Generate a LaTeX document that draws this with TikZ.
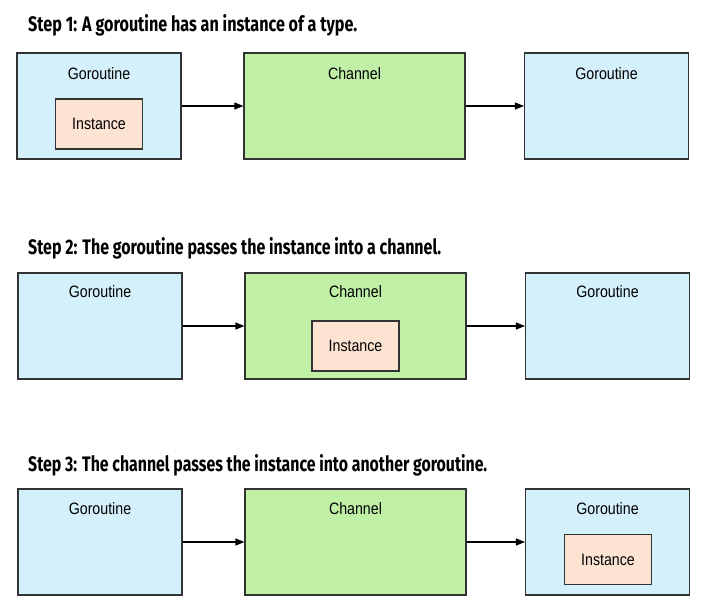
\documentclass[tikz,border=0pt]{standalone}
\usepackage{fontspec}
\usepackage{graphicx}
\setmainfont{Liberation Sans}[FakeStretch=0.86]
\newfontfamily\titlefont{Fira Sans}[UprightFont=* Bold]
\usetikzlibrary{arrows.meta}
\definecolor{gorofill}{HTML}{D4F0FB}
\definecolor{chanfill}{HTML}{C0F0A6}
\definecolor{instfill}{HTML}{FDE4D2}
\definecolor{edgecol}{HTML}{333333}
\newcommand{\steptitle}[2]{\resizebox{#1}{\height}{\titlefont\fontsize{21}{25}\selectfont #2}}
\begin{document}
\begin{tikzpicture}[x=1pt,y=-1pt,
  box/.style={draw=edgecol, line width=1.1pt, minimum height=106pt, inner sep=0pt},
  goro/.style={box, fill=gorofill, minimum width=164pt},
  chan/.style={box, fill=chanfill, minimum width=221pt},
  inst/.style={draw=edgecol, line width=1.1pt, fill=instfill, minimum width=87pt, minimum height=50pt, inner sep=0pt, font=\fontsize{16.5}{18}\selectfont},
  lbl/.style={inner sep=0pt, font=\fontsize{16.5}{18}\selectfont},
  ttl/.style={inner sep=0pt, anchor=base west},
  flow/.style={-{Triangle[length=9pt,width=7pt]}, line width=1.1pt, black}]
\useasboundingbox (0,0) rectangle (702,604);
% Step 1
\node[ttl] (t1) at (28,32) {\steptitle{329pt}{Step 1: A goroutine has an instance of a type.}};
\node[goro] (g11) at (99,106) {};
\node[chan] (c1) at (354.5,106) {};
\node[goro] (g12) at (606.5,106) {};
\node[lbl] (lg11) at (99,74) {Goroutine};
\node[lbl] (lc1) at (354.5,74) {Channel};
\node[lbl] (lg12) at (606.5,74) {Goroutine};
\node[inst] (i1) at (99,124) {Instance};
\draw[flow] (g11.east) -- (c1.west);
\draw[flow] (c1.east) -- (g12.west);
% Step 2
\node[ttl] (t2) at (28,255) {\steptitle{413pt}{Step 2: The goroutine passes the instance into a channel.}};
\node[goro] (g21) at (100,326) {};
\node[chan] (c2) at (355.5,326) {};
\node[goro] (g22) at (607.5,326) {};
\node[lbl] (lg21) at (100,292) {Goroutine};
\node[lbl] (lc2) at (355.5,292) {Channel};
\node[lbl] (lg22) at (607.5,292) {Goroutine};
\node[inst] (i2) at (355.5,346) {Instance};
\draw[flow] (g21.east) -- (c2.west);
\draw[flow] (c2.east) -- (g22.west);
% Step 3
\node[ttl] (t3) at (28,471) {\steptitle{459pt}{Step 3: The channel passes the instance into another goroutine.}};
\node[goro] (g31) at (100,542) {};
\node[chan] (c3) at (355.5,542) {};
\node[goro] (g32) at (607.5,542) {};
\node[lbl] (lg31) at (100,509) {Goroutine};
\node[lbl] (lc3) at (355.5,509) {Channel};
\node[lbl] (lg32) at (607.5,509) {Goroutine};
\node[inst] (i3) at (608,559.5) {Instance};
\draw[flow] (g31.east) -- (c3.west);
\draw[flow] (c3.east) -- (g32.west);
\end{tikzpicture}
\end{document}
